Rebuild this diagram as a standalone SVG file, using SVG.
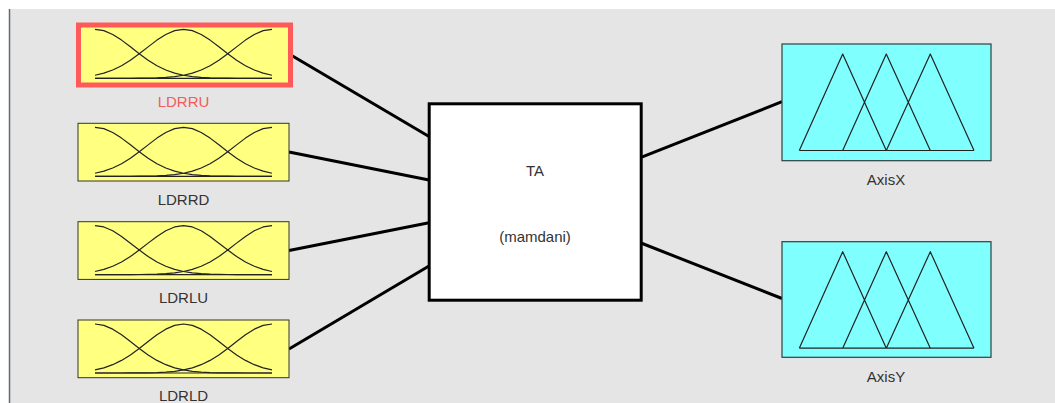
<svg xmlns="http://www.w3.org/2000/svg" xmlns:xlink="http://www.w3.org/1999/xlink" width="1055" height="403" viewBox="0 0 1055 403">
  <style>
    .label { font-family: "Liberation Sans", Arial, sans-serif; font-size: 15px; fill: #333333; text-anchor: middle; }
    .sel { fill: #f25c5c; }
    .in-box { fill: #ffff80; stroke: #333333; stroke-width: 1; }
    .in-box.sel-box { stroke: #ff5a5a; stroke-width: 5; }
    .out-box { fill: #80ffff; stroke: #2f3f3f; stroke-width: 1.2; }
    .mf { fill: none; stroke: #222222; stroke-width: 1.2; stroke-linejoin: round; }
    .sys { fill: #ffffff; stroke: #000000; stroke-width: 3; }
    .wire { stroke: #000000; stroke-width: 3; fill: none; }
  </style>
  <defs>
    <!-- three gaussian membership functions over a 177 x 49 range -->
    <g id="gauss">
      <polyline class="mf" points="0,0 8.85,1.34 17.7,5.14 26.55,10.81 35.4,17.55 44.25,24.49 53.1,30.93 61.95,36.39 70.8,40.68 79.65,43.81 88.5,45.93 97.35,47.29 106.2,48.09 115.05,48.54 123.9,48.78 132.75,48.9 141.6,48.96 150.45,49 177,49"/>
      <polyline class="mf" points="0,45.93 8.85,43.81 17.7,40.68 26.55,36.39 35.4,30.93 44.25,24.49 53.1,17.55 61.95,10.81 70.8,5.14 79.65,1.34 88.5,0 97.35,1.34 106.2,5.14 115.05,10.81 123.9,17.55 132.75,24.49 141.6,30.93 150.45,36.39 159.3,40.68 168.15,43.81 177,45.93"/>
      <polyline class="mf" points="0,49 26.55,49 35.4,48.96 44.25,48.9 53.1,48.78 61.95,48.54 70.8,48.09 79.65,47.29 88.5,45.93 97.35,43.81 106.2,40.68 115.05,36.39 123.9,30.93 132.75,24.49 141.6,17.55 150.45,10.81 159.3,5.14 168.15,1.34 177,0"/>
      <line class="mf" x1="0" y1="49" x2="177" y2="49"/>
    </g>
    <!-- three triangular membership functions -->
    <g id="tri">
      <path class="mf" d="M0,96.5 L43.4,0 L87,96.5 M43.4,96.5 L87,0 L131,96.5 M87,96.5 L131,0 L174.7,96.5 M0,96.5 H174.7"/>
    </g>
  </defs>

  <!-- panel -->
  <rect x="0" y="0" width="1055" height="403" fill="#ffffff"/>
  <rect x="9" y="9" width="1046" height="394" fill="#e5e5e5"/>
  <line x1="9.5" y1="9" x2="9.5" y2="403" stroke="#5f6b78" stroke-width="1.5"/>

  <!-- connectors -->
  <g id="connectors">
    <line class="wire" x1="290" y1="54.5" x2="429" y2="136.5"/>
    <line class="wire" x1="289" y1="152" x2="429" y2="180"/>
    <line class="wire" x1="289" y1="250.5" x2="429" y2="222.7"/>
    <line class="wire" x1="289" y1="349" x2="429" y2="266"/>
    <line class="wire" x1="641" y1="157.3" x2="782" y2="101.7"/>
    <line class="wire" x1="641" y1="243" x2="782" y2="298.5"/>
  </g>

  <!-- inputs -->
  <g id="LDRRU">
    <rect class="in-box sel-box" x="78.5" y="25" width="212" height="60"/>
    <use xlink:href="#gauss" transform="translate(95,29.3)"/>
    <text class="label sel" x="183.5" y="107">LDRRU</text>
  </g>
  <g id="LDRRD">
    <rect class="in-box" x="78" y="123.3" width="211" height="57.7"/>
    <use xlink:href="#gauss" transform="translate(95,127.3)"/>
    <text class="label" x="183.5" y="204.5">LDRRD</text>
  </g>
  <g id="LDRLU">
    <rect class="in-box" x="78" y="221.7" width="211" height="57.7"/>
    <use xlink:href="#gauss" transform="translate(95,225.6)"/>
    <text class="label" x="183.5" y="303">LDRLU</text>
  </g>
  <g id="LDRLD">
    <rect class="in-box" x="78" y="320" width="211" height="57.7"/>
    <use xlink:href="#gauss" transform="translate(95,324)"/>
    <text class="label" x="183.5" y="401">LDRLD</text>
  </g>

  <!-- inference system -->
  <g id="TA">
    <rect class="sys" x="429.2" y="103.8" width="212" height="196.4"/>
    <text class="label" x="535" y="176">TA</text>
    <text class="label" x="535" y="241.5">(mamdani)</text>
  </g>

  <!-- outputs -->
  <g id="AxisX">
    <rect class="out-box" x="782" y="44" width="209" height="116.7"/>
    <use xlink:href="#tri" transform="translate(799.3,54)"/>
    <text class="label" x="886" y="185.3">AxisX</text>
  </g>
  <g id="AxisY">
    <rect class="out-box" x="782" y="241.7" width="209" height="115.6"/>
    <use xlink:href="#tri" transform="translate(799.3,251.7)"/>
    <text class="label" x="886" y="381.7">AxisY</text>
  </g>
</svg>
